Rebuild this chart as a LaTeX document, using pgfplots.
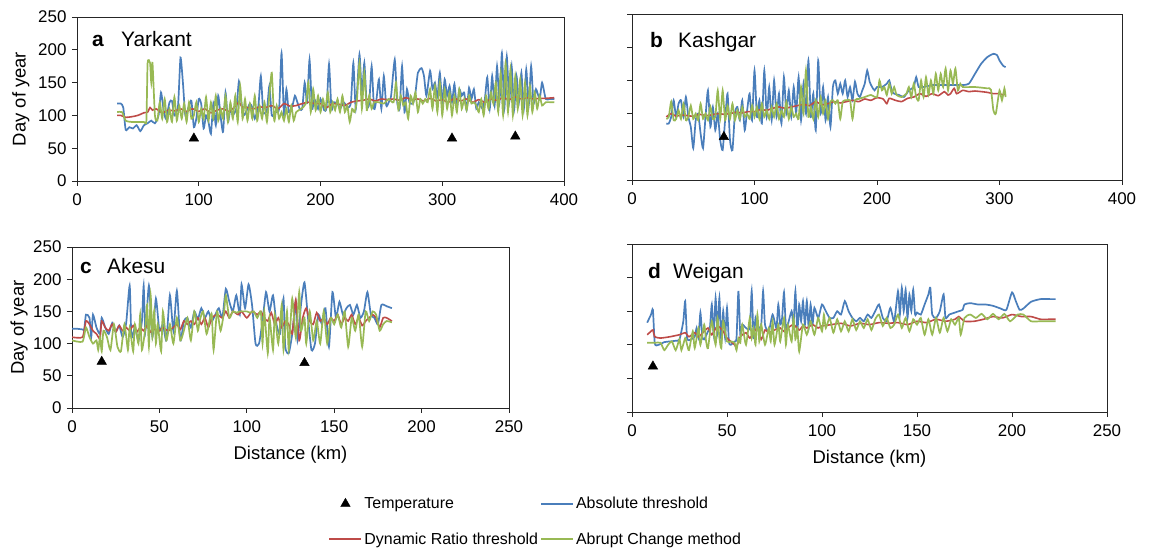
\documentclass[border=0pt]{standalone}
\usepackage{fontspec}
\setmainfont{Liberation Sans}
\usepackage{pgfplots}
\pgfplotsset{compat=1.18}
\definecolor{absblue}{HTML}{4A7EBB}
\definecolor{dynred}{HTML}{BE4B48}
\definecolor{abrgreen}{HTML}{98B954}
\newcommand{\lblfont}{\fontsize{18.5}{22}\selectfont}
\pgfplotsset{
  panel/.style={scale only axis, anchor=south west, ymin=0, ymax=250,
    ytick={0,50,...,250}, tick align=outside, tick pos=left,
    major tick length=5bp,
    axis line style={black!85, line width=0.9bp},
    tick style={black!85, line width=0.9bp},
    /pgf/number format/assume math mode=true,
    tick label style={font=\fontsize{17}{20}\selectfont},
    xticklabel style={yshift=-4bp},
    yticklabel style={xshift=-2bp},
    every axis x label/.style={at={(axis description cs:0.5,0)}, anchor=center, yshift=-47bp, font=\lblfont},
  },
  temp/.style={only marks, mark=triangle*, mark size=5.5bp, black},
  abs/.style={color=absblue, line width=1.7bp, smooth, tension=0.35, no markers},
  dyn/.style={color=dynred, line width=1.6bp, smooth, tension=0.35, no markers},
  abr/.style={color=abrgreen, line width=1.7bp, smooth, tension=0.35, no markers},
}
\newcommand{\ttl}{\fontsize{21}{25}\selectfont}
\begin{document}
\begin{tikzpicture}
\useasboundingbox (0,0) rectangle (1153bp,549bp);
% ---------------- a Yarkant
\begin{axis}[panel, at={(77bp,368bp)}, width=487bp, height=164bp,
  xmin=0, xmax=400, xtick={0,100,...,400}, ylabel={Day of year},
  every axis y label/.style={at={(axis description cs:-0.115,0.5)}, rotate=90, anchor=center, font=\lblfont}]
\addplot[temp] coordinates {(96,65) (308,65) (360,68)};
\addplot[abs] coordinates {(33,118) (36,118) (38,112) (40,78) (43,82) (46,80) (49,85) (52,76) (55,85) (58,88) (61,92) (64,88) (67,100) (69,135) (71,110) (73,95) (76,120) (78,122) (80,100) (83,115) (85,188) (87,150) (89,100) (92,115) (94,122) (96,82) (98,95) (100,125) (102,118) (104,80) (106,100) (108,90) (110,72) (112,118) (114,85) (116,130) (118,98) (120,75) (122,135) (124,90) (126,110) (128,100) (131,112) (133,152) (135,120) (137,100) (140,110) (142,118) (144,112) (146,95) (149,115) (151,160) (153,105) (156,108) (158,145) (160,100) (163,105) (166,110) (168,195) (170,100) (172,140) (174,105) (177,115) (179,130) (181,120) (183,110) (185,110) (187,150) (189,120) (191,185) (193,110) (195,125) (198,110) (200,125) (203,108) (205,112) (207,178) (209,110) (211,120) (214,118) (216,110) (219,120) (221,115) (223,112) (225,120) (227,180) (229,110) (232,193) (234,130) (236,180) (238,115) (240,118) (242,175) (244,110) (246,125) (248,155) (250,110) (252,160) (254,115) (256,120) (258,130) (261,185) (263,120) (265,110) (267,175) (269,105) (271,140) (273,120) (276,118) (278,135) (280,165) (283,172) (285,160) (287,130) (290,168) (292,140) (294,150) (296,128) (298,165) (300,120) (302,155) (304,130) (306,145) (308,120) (310,148) (312,112) (314,140) (316,130) (318,135) (320,108) (322,142) (324,125) (326,140) (328,110) (330,120) (333,110) (335,125) (337,158) (339,110) (341,160) (343,115) (345,175) (347,120) (349,195) (351,110) (353,190) (355,120) (357,175) (359,108) (361,160) (363,120) (365,165) (367,110) (369,170) (371,115) (373,175) (375,118) (377,140) (380,125) (382,150) (385,125) (388,125) (392,125)};
\addplot[dyn] coordinates {(33,100) (36,100) (40,97) (45,98) (50,100) (55,104) (58,105) (60,112) (62,108) (65,110) (70,104) (75,108) (80,107) (85,110) (90,106) (95,110) (100,106) (105,110) (110,104) (115,108) (120,110) (125,106) (130,114) (133,120) (136,112) (140,112) (145,110) (150,113) (155,112) (160,115) (165,110) (170,118) (175,114) (180,115) (185,118) (190,120) (195,118) (200,118) (205,112) (210,118) (215,117) (220,115) (225,120) (230,122) (235,123) (240,125) (245,122) (250,125) (255,124) (260,125) (265,123) (270,127) (275,124) (280,125) (285,122) (290,126) (295,122) (300,124) (305,120) (310,126) (315,122) (320,125) (325,120) (330,124) (335,120) (340,125) (345,123) (350,127) (355,124) (360,128) (365,125) (370,127) (375,125) (380,126) (385,126) (392,127)};
\addplot[abr] coordinates {(33,105) (37,105) (40,92) (45,90) (50,90) (55,90) (57,92) (58,180) (60,180) (61,150) (62,180) (64,100) (66,92) (68,120) (70,95) (72,125) (74,90) (76,110) (78,90) (80,128) (82,92) (84,115) (86,95) (88,118) (90,90) (92,120) (94,95) (96,100) (98,120) (100,90) (102,110) (104,95) (106,128) (108,92) (110,120) (112,95) (114,130) (116,92) (118,110) (120,95) (122,130) (124,90) (126,120) (128,95) (130,130) (132,90) (134,145) (136,95) (138,125) (140,92) (142,118) (144,95) (146,130) (148,92) (150,115) (152,95) (154,120) (156,90) (158,130) (160,165) (162,92) (164,115) (166,95) (168,105) (170,92) (172,110) (174,90) (176,115) (178,92) (180,105) (184,110) (188,118) (190,150) (192,105) (194,140) (196,108) (198,130) (200,105) (202,125) (204,110) (206,135) (208,105) (210,120) (212,108) (214,125) (216,105) (218,130) (220,105) (222,115) (224,90) (226,110) (228,105) (230,125) (232,180) (234,110) (236,165) (238,108) (240,130) (242,110) (244,120) (248,120) (252,118) (256,125) (260,120) (262,150) (264,108) (266,130) (268,115) (270,120) (272,95) (274,130) (276,118) (278,135) (280,105) (282,125) (284,118) (286,125) (288,120) (290,140) (292,110) (294,145) (296,105) (298,150) (300,100) (302,140) (304,110) (306,135) (308,100) (310,130) (312,105) (314,140) (316,110) (318,125) (320,108) (322,130) (324,118) (326,120) (328,115) (330,105) (332,125) (334,100) (336,130) (338,110) (340,135) (342,118) (344,150) (346,105) (348,165) (350,100) (352,180) (354,105) (356,170) (358,100) (360,160) (362,110) (364,155) (366,100) (368,150) (370,100) (372,145) (374,105) (376,135) (378,110) (380,130) (382,115) (385,120) (392,120)};
\end{axis}
% ---------------- b Kashgar
\begin{axis}[panel, at={(632bp,369bp)}, width=490bp, height=166bp,
  xmin=0, xmax=400, xtick={0,100,...,400}, yticklabels={}]
\addplot[temp] coordinates {(75,65)};
\addplot[abs] coordinates {(28,85) (30,85) (32,95) (34,120) (36,95) (38,115) (40,120) (42,95) (44,125) (46,95) (48,80) (50,48) (52,90) (54,100) (56,70) (58,48) (60,95) (62,135) (64,80) (66,110) (68,75) (70,100) (72,60) (74,45) (76,90) (78,130) (80,60) (82,45) (84,100) (86,110) (88,90) (90,120) (92,75) (94,105) (96,130) (98,90) (100,165) (102,95) (104,120) (106,85) (108,165) (110,95) (112,140) (114,90) (116,150) (118,95) (120,130) (122,85) (124,155) (126,100) (128,135) (130,95) (132,140) (134,100) (136,155) (138,90) (140,145) (142,100) (144,180) (146,95) (148,130) (150,75) (152,180) (154,100) (156,140) (158,90) (160,125) (162,80) (164,140) (166,150) (168,130) (170,145) (172,130) (174,150) (176,125) (178,140) (180,120) (182,148) (184,130) (186,125) (188,135) (190,145) (192,165) (194,148) (196,140) (198,135) (200,140) (204,140) (208,145) (210,150) (212,135) (214,130) (218,128) (222,125) (226,135) (230,140) (232,155) (234,140) (238,140) (245,143) (250,143) (260,143) (270,143) (275,145) (280,160) (285,175) (290,185) (295,190) (298,188) (300,180) (303,172) (305,170)};
\addplot[dyn] coordinates {(28,95) (32,100) (36,96) (40,98) (45,97) (50,96) (55,99) (60,97) (65,98) (70,100) (75,99) (80,100) (85,102) (90,101) (95,103) (100,103) (105,106) (110,105) (115,108) (120,110) (125,108) (130,110) (135,112) (140,114) (145,112) (150,118) (155,113) (160,115) (165,118) (170,116) (175,118) (180,120) (185,118) (190,122) (195,120) (200,124) (205,122) (208,115) (210,123) (215,120) (220,118) (225,123) (230,125) (235,130) (240,126) (245,130) (250,127) (255,133) (258,128) (260,130) (263,138) (265,130) (270,135) (275,133) (280,134) (290,132) (295,130) (300,130) (303,128) (305,130)};
\addplot[abr] coordinates {(28,92) (30,95) (32,118) (34,90) (36,92) (38,105) (40,92) (42,115) (44,90) (46,95) (48,112) (50,92) (52,100) (54,90) (56,115) (58,92) (60,100) (62,90) (64,110) (66,92) (68,95) (70,135) (72,92) (74,135) (76,90) (78,112) (80,92) (82,115) (84,90) (86,105) (88,92) (90,110) (92,95) (94,100) (96,92) (98,112) (100,95) (102,110) (104,92) (106,115) (108,95) (110,105) (112,92) (114,110) (116,95) (118,115) (120,92) (122,105) (124,95) (126,118) (128,92) (130,110) (132,95) (134,100) (136,92) (138,140) (140,100) (142,165) (144,95) (146,110) (148,92) (150,120) (152,95) (154,125) (156,100) (158,120) (160,92) (162,118) (164,120) (166,115) (168,120) (170,92) (172,118) (175,120) (178,120) (180,92) (182,120) (185,122) (190,125) (195,128) (200,125) (202,150) (204,135) (206,140) (208,128) (210,145) (212,130) (214,140) (216,128) (220,125) (224,130) (226,140) (228,125) (230,145) (232,125) (234,120) (236,150) (238,125) (240,155) (242,128) (244,150) (246,130) (248,160) (250,135) (252,160) (254,140) (256,168) (258,135) (260,165) (262,145) (264,168) (266,135) (268,145) (270,140) (280,140) (290,138) (293,136) (295,105) (297,100) (300,135) (302,120) (304,138) (305,125)};
\end{axis}
% ---------------- c Akesu
\begin{axis}[panel, at={(72bp,141bp)}, width=437bp, height=161bp,
  xmin=0, xmax=250, xtick={0,50,...,250}, ylabel={Day of year}, xlabel={Distance (km)},
  every axis y label/.style={at={(axis description cs:-0.121,0.5)}, rotate=90, anchor=center, font=\lblfont}]
\addplot[temp] coordinates {(17,72) (133,70)};
\addplot[abs] coordinates {(0,123) (3,123) (6,122) (7,122) (8,145) (10,140) (11,110) (12,145) (14,125) (16,115) (17,140) (19,125) (21,115) (23,132) (25,118) (27,128) (29,110) (31,132) (33,190) (34,110) (36,125) (38,105) (40,135) (41,190) (42,120) (44,190) (46,110) (48,170) (50,120) (52,130) (54,105) (56,175) (58,120) (60,182) (62,105) (64,135) (66,140) (68,125) (70,150) (72,138) (74,155) (76,140) (78,150) (80,135) (82,145) (84,155) (86,140) (88,185) (90,165) (92,150) (94,175) (96,145) (97,192) (99,155) (101,192) (103,160) (105,100) (107,100) (109,135) (111,180) (113,150) (115,175) (117,130) (119,115) (121,170) (122,95) (124,85) (126,115) (128,165) (129,105) (131,160) (133,195) (135,140) (137,90) (139,100) (141,145) (143,130) (145,155) (147,95) (149,180) (151,140) (153,165) (155,145) (157,155) (159,160) (161,145) (163,160) (165,140) (167,150) (169,180) (171,145) (173,140) (175,130) (177,160) (180,158) (183,155)};
\addplot[dyn] coordinates {(0,110) (6,110) (8,135) (10,130) (12,120) (14,115) (16,108) (17,135) (19,125) (21,120) (23,130) (25,118) (27,128) (29,120) (31,125) (33,120) (35,128) (37,118) (39,125) (41,120) (43,128) (45,118) (47,122) (50,120) (52,125) (55,120) (58,125) (60,130) (62,122) (64,135) (66,130) (68,135) (70,130) (72,140) (74,130) (76,140) (78,125) (80,140) (83,145) (86,140) (88,150) (90,140) (92,150) (95,145) (97,150) (100,140) (103,150) (106,145) (108,150) (110,140) (112,135) (114,148) (116,130) (118,140) (120,125) (122,135) (124,130) (126,115) (128,168) (130,105) (132,140) (134,155) (136,135) (138,130) (140,148) (142,135) (144,140) (146,130) (148,140) (150,135) (152,145) (154,130) (156,140) (158,135) (160,145) (162,130) (164,140) (166,128) (168,135) (170,140) (172,145) (174,140) (176,125) (178,140) (180,140) (183,135)};
\addplot[abr] coordinates {(0,105) (6,103) (8,125) (10,110) (12,100) (14,105) (15,90) (16,110) (17,88) (18,120) (20,110) (22,90) (24,130) (26,95) (28,88) (30,130) (32,90) (33,125) (35,88) (36,130) (38,100) (39,145) (40,90) (42,125) (43,160) (44,95) (45,175) (46,110) (47,150) (48,100) (49,130) (51,88) (52,150) (54,105) (56,130) (58,100) (60,140) (62,105) (64,120) (66,140) (68,105) (70,150) (72,120) (73,135) (75,150) (77,115) (79,140) (80,145) (81,90) (83,150) (85,120) (87,150) (88,175) (90,140) (92,150) (94,148) (96,150) (98,150) (100,150) (102,148) (104,150) (106,140) (108,150) (109,100) (110,150) (112,85) (113,140) (115,90) (116,145) (118,100) (120,160) (121,90) (123,150) (124,90) (126,170) (128,110) (130,180) (131,120) (133,140) (134,100) (136,150) (138,105) (140,135) (142,100) (144,150) (146,100) (148,140) (150,130) (152,145) (154,125) (156,150) (158,95) (160,140) (162,120) (164,145) (166,95) (168,150) (170,135) (172,150) (174,145) (176,120) (178,130) (180,135) (183,133)};
\end{axis}
% ---------------- d Weigan
\begin{axis}[panel, at={(632bp,137bp)}, width=475bp, height=168bp,
  xmin=0, xmax=250, xtick={0,50,...,250}, yticklabels={}, xlabel={Distance (km)}]
\addplot[temp] coordinates {(11,68)};
\addplot[abs] coordinates {(8,133) (10,145) (11,152) (12,102) (14,100) (17,104) (20,105) (23,106) (25,108) (27,135) (28,165) (29,110) (31,108) (33,112) (34,125) (35,110) (36,148) (37,112) (38,108) (40,120) (41,125) (42,160) (43,115) (44,170) (45,120) (46,170) (47,105) (48,150) (49,110) (50,155) (51,105) (52,100) (54,105) (55,110) (56,180) (57,115) (58,130) (60,125) (62,125) (63,180) (64,110) (65,140) (66,125) (68,130) (69,180) (70,130) (72,120) (74,145) (76,125) (77,160) (78,130) (79,140) (80,178) (81,125) (82,130) (84,150) (85,130) (86,180) (87,120) (88,160) (89,135) (90,165) (91,130) (92,165) (93,125) (94,160) (95,130) (96,155) (98,140) (100,160) (102,150) (104,140) (106,140) (108,150) (110,145) (112,165) (114,150) (116,140) (118,135) (120,140) (122,135) (124,145) (126,140) (128,150) (130,160) (132,140) (134,135) (136,155) (138,135) (140,180) (141,145) (142,185) (143,150) (144,182) (145,140) (146,175) (147,150) (148,182) (149,145) (150,148) (152,145) (154,160) (156,175) (157,185) (158,145) (160,140) (162,150) (164,175) (165,140) (167,145) (170,148) (172,150) (174,152) (175,160) (178,162) (182,160) (186,160) (190,158) (194,154) (197,152) (200,178) (202,165) (204,152) (206,154) (210,164) (215,168) (220,168) (223,168)};
\addplot[dyn] coordinates {(8,115) (10,120) (11,122) (12,112) (15,110) (20,112) (25,115) (28,118) (30,112) (33,118) (35,112) (38,120) (40,125) (42,115) (45,128) (48,120) (50,110) (52,105) (54,100) (55,97) (57,112) (60,118) (62,110) (64,118) (66,125) (68,108) (70,122) (72,118) (75,122) (78,125) (80,120) (82,125) (85,130) (88,122) (90,128) (92,125) (95,130) (98,125) (100,128) (105,130) (110,132) (115,128) (120,132) (125,130) (130,133) (135,132) (140,133) (145,130) (150,135) (155,133) (160,138) (165,135) (170,138) (172,142) (175,135) (180,135) (185,138) (190,142) (195,140) (200,145) (205,142) (210,142) (215,138) (220,138) (223,138)};
\addplot[abr] coordinates {(8,103) (12,103) (15,103) (17,92) (19,100) (21,105) (23,92) (25,108) (26,92) (28,110) (29,100) (30,92) (32,120) (33,95) (35,125) (36,100) (38,130) (39,105) (40,95) (42,135) (44,100) (45,140) (46,110) (47,95) (48,135) (50,105) (52,105) (54,103) (55,92) (56,110) (57,103) (58,130) (60,100) (62,140) (63,110) (64,125) (65,100) (66,145) (67,105) (68,130) (70,100) (72,125) (73,105) (74,135) (75,100) (77,130) (78,105) (80,140) (81,100) (82,130) (84,105) (85,140) (86,108) (87,125) (88,90) (90,130) (92,115) (94,135) (96,115) (98,140) (100,120) (101,145) (102,125) (104,140) (106,118) (108,138) (110,120) (112,135) (114,120) (116,138) (118,122) (120,135) (122,125) (124,138) (126,122) (128,138) (130,145) (132,128) (134,140) (136,125) (138,130) (140,145) (142,125) (144,140) (146,120) (148,138) (150,130) (152,140) (154,115) (156,138) (158,115) (160,140) (162,118) (164,140) (166,120) (168,138) (170,130) (172,140) (173,115) (175,140) (178,145) (181,140) (184,146) (187,138) (190,146) (193,138) (196,146) (199,135) (203,145) (206,145) (210,135) (215,135) (223,135)};
\end{axis}
% ---------------- panel titles
\node[anchor=base west, inner sep=0] at (92bp,502bp) {\ttl\bfseries a};
\node[anchor=base west, inner sep=0] at (121bp,502bp) {\ttl Yarkant};
\node[anchor=base west, inner sep=0] at (650bp,501bp) {\ttl\bfseries b};
\node[anchor=base west, inner sep=0] at (678bp,501bp) {\ttl Kashgar};
\node[anchor=base west, inner sep=0] at (80bp,275bp) {\ttl\bfseries c};
\node[anchor=base west, inner sep=0] at (107bp,275bp) {\ttl Akesu};
\node[anchor=base west, inner sep=0] at (648bp,270bp) {\ttl\bfseries d};
\node[anchor=base west, inner sep=0] at (673bp,270bp) {\ttl Weigan};
% ---------------- legend
\begin{axis}[at={(0bp,0bp)}, anchor=south west, scale only axis, width=1153bp, height=549bp,
  xmin=0, xmax=1, ymin=0, ymax=1, hide axis, legend columns=2, legend cell align=left,
  legend image code/.code={\draw[mark repeat=2,mark phase=2,#1] plot coordinates {(0bp,0bp) (16bp,0bp) (32bp,0bp)};},
  legend style={at={(0.4646,0.0500)}, anchor=center, draw=none, fill=none,
    font=\fontsize{16}{19}\selectfont, row sep=18.5bp}]
\addlegendimage{temp}
\addlegendentry{Temperature}
\addlegendimage{color=absblue, line width=2bp}
\addlegendentry{Absolute threshold}
\addlegendimage{color=dynred, line width=2bp}
\addlegendentry{Dynamic Ratio threshold}
\addlegendimage{color=abrgreen, line width=2bp}
\addlegendentry{Abrupt Change method}
\end{axis}
\end{tikzpicture}
\end{document}
